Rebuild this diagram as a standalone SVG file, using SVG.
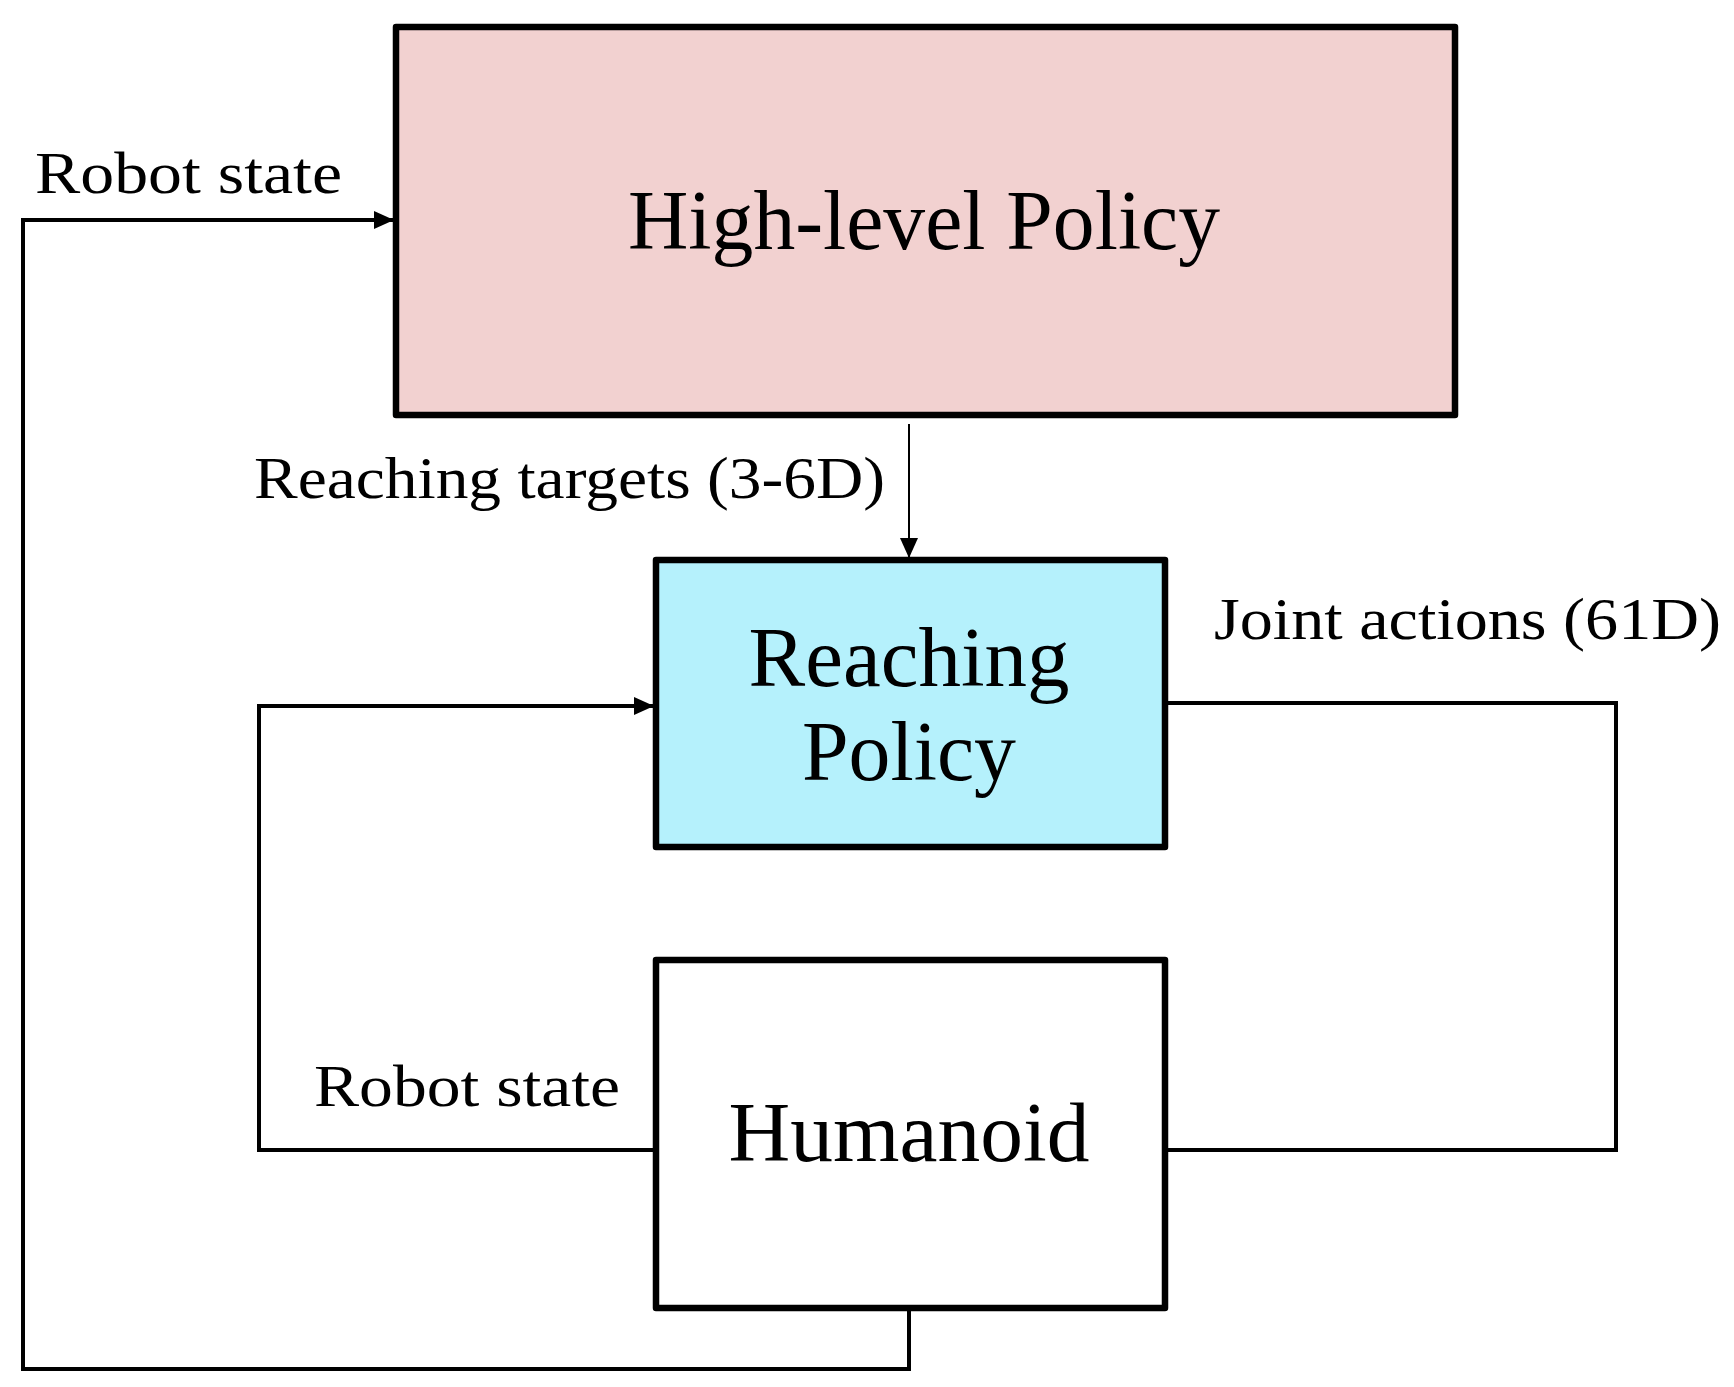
<svg xmlns="http://www.w3.org/2000/svg" width="1734" height="1387" viewBox="0 0 1734 1387">
<defs>
<marker id="ah" markerWidth="20" markerHeight="18" refX="20" refY="9" orient="auto" markerUnits="userSpaceOnUse">
<path d="M0,0 L20,9 L0,18 Z" fill="#000"/>
</marker>
</defs>
<style>
.box{stroke:#000;stroke-width:6.5;stroke-linejoin:round}
.big{font-family:"Liberation Serif","DejaVu Serif",serif;font-size:84px;fill:#000;text-anchor:middle}
.lbl{font-family:"Liberation Serif","DejaVu Serif",serif;font-size:60px;fill:#000}
.wire{fill:none;stroke:#000;stroke-width:4;stroke-linejoin:miter}
.thin{fill:none;stroke:#000;stroke-width:2}
</style>
<rect width="1734" height="1387" fill="#fff"/>
<g id="connectors">
<polyline class="wire" points="909,1308 909,1369 23,1369 23,220 394,220" marker-end="url(#ah)"/>
<line class="thin" x1="909" y1="424" x2="909" y2="558" marker-end="url(#ah)"/>
<polyline class="wire" points="1165,703 1616,703 1616,1150 1165,1150"/>
<polyline class="wire" points="656,1150 259,1150 259,706 654,706" marker-end="url(#ah)"/>
</g>
<g id="high-level-policy">
<rect class="box" x="396" y="27" width="1059" height="388" fill="#F2D1D0"/>
<text class="big" x="924" y="249" textLength="592" lengthAdjust="spacingAndGlyphs">High-level Policy</text>
</g>
<g id="reaching-policy">
<rect class="box" x="656" y="560" width="509" height="287" fill="#B5F1FC"/>
<text class="big" x="909" y="686" textLength="321" lengthAdjust="spacingAndGlyphs">Reaching</text>
<text class="big" x="909" y="780" textLength="214" lengthAdjust="spacingAndGlyphs">Policy</text>
</g>
<g id="humanoid">
<rect class="box" x="656" y="960" width="509" height="348" fill="#fff"/>
<text class="big" x="909" y="1161" textLength="361" lengthAdjust="spacingAndGlyphs">Humanoid</text>
</g>
<g id="labels">
<text class="lbl" x="35" y="193" textLength="307" lengthAdjust="spacingAndGlyphs">Robot state</text>
<text class="lbl" x="254" y="498" textLength="631" lengthAdjust="spacingAndGlyphs">Reaching targets (3-6D)</text>
<text class="lbl" x="1214" y="639" textLength="507" lengthAdjust="spacingAndGlyphs">Joint actions (61D)</text>
<text class="lbl" x="314" y="1106" textLength="306" lengthAdjust="spacingAndGlyphs">Robot state</text>
</g>
</svg>
